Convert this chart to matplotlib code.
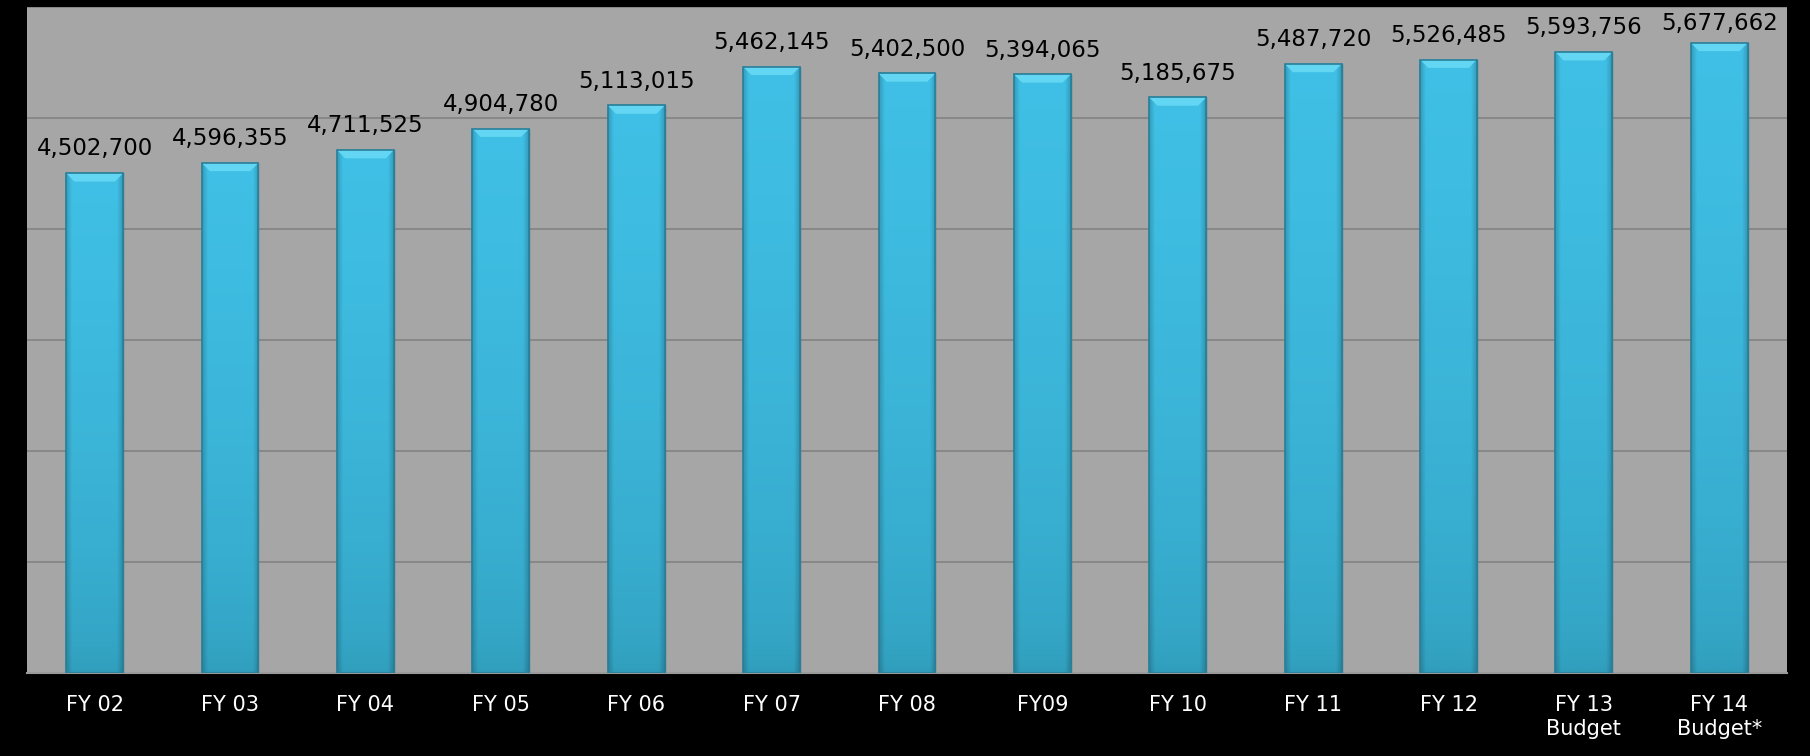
import numpy as np
import matplotlib.pyplot as plt
from matplotlib.patches import Polygon

labels = ["FY 02", "FY 03", "FY 04", "FY 05", "FY 06", "FY 07", "FY 08",
          "FY09", "FY 10", "FY 11", "FY 12", "FY 13\nBudget", "FY 14\nBudget*"]
values = [4502700, 4596355, 4711525, 4904780, 5113015, 5462145, 5402500,
          5394065, 5185675, 5487720, 5526485, 5593756, 5677662]

fig = plt.figure(figsize=(18.1, 7.56), dpi=100, facecolor="black")
ax = fig.add_axes([0.0149, 0.1098, 0.9724, 0.8809])
ax.set_facecolor("#a6a6a6")

x = np.arange(len(values))
w = 0.42
bars = ax.bar(x, values, width=w, color="#3dbde3", edgecolor="#2a7f99",
              linewidth=1.0, zorder=3)

# gradient fill for each bar: darker toward bottom and toward the sides
ny, nx = 200, 60
yy = np.linspace(0, 1, ny)[:, None]
xx = np.linspace(-1, 1, nx)[None, :]
top_c = np.array([0x40, 0xc0, 0xe6]) / 255
bot_c = np.array([0x30, 0x9c, 0xba]) / 255
img = bot_c + (top_c - bot_c) * np.sqrt(yy)[..., None]
img = img * (1 - 0.18 * np.clip(np.abs(xx) - 0.8, 0, None)[..., None] / 0.2)
img = np.clip(img, 0, 1)
for b, v in zip(bars, values):
    x0 = b.get_x()
    im = ax.imshow(img, extent=[x0, x0 + w, 0, v], origin="lower",
                   aspect="auto", zorder=3.5, interpolation="bilinear")
    im.set_clip_path(b)
    # top bevel
    bh = 75000
    bw = 0.06
    ax.add_patch(Polygon([[x0, v], [x0 + w, v], [x0 + w - bw, v - bh],
                          [x0 + bw, v - bh]], closed=True,
                         facecolor="#62d6f2", edgecolor="none", zorder=4))
    ax.add_patch(Polygon([[x0, v], [x0 + w, v], [x0 + w, 0], [x0, 0]],
                         closed=True, facecolor="none",
                         edgecolor="#2a7f99", linewidth=1.2, zorder=4.5))
    # keep the label inside the plot area
    ty = min(v + 115000, 5745000)
    ax.text(b.get_x() + w / 2, ty, f"{v:,}", ha="center",
            va="bottom", fontsize=16.5, color="black", zorder=5)

ax.set_xlim(-0.5, len(values) - 0.5)
ax.set_ylim(0, 6000000)
ax.set_yticks(np.arange(0, 6000001, 1000000))
ax.yaxis.grid(True, color="#828282", linewidth=1.2, zorder=1)
ax.tick_params(axis="y", left=False, labelleft=False)
ax.tick_params(axis="x", bottom=False, colors="white", labelsize=15, pad=12)
ax.set_xticks(x)
ax.set_xticklabels(labels, linespacing=1.3)
for s in ["top", "right", "left"]:
    ax.spines[s].set_visible(False)
ax.spines["bottom"].set_color("#9a9a9a")
ax.spines["bottom"].set_linewidth(1.5)

fig.savefig("out.png", dpi=100, facecolor="black")
